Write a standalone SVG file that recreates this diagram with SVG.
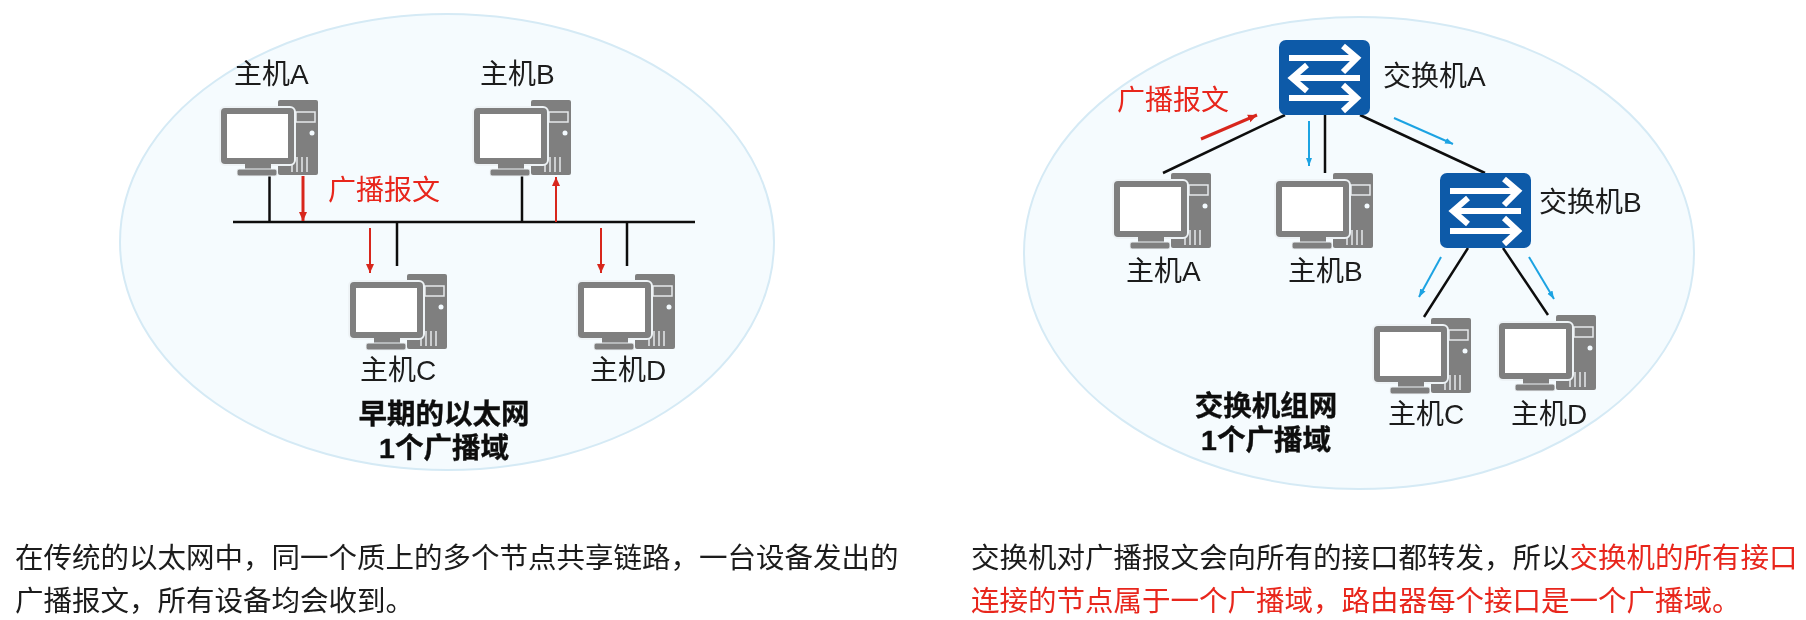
<svg xmlns="http://www.w3.org/2000/svg" width="1806" height="620" viewBox="0 0 1806 620">
<style>
text{font-family:"Liberation Sans","Noto Sans CJK SC",sans-serif;font-size:28px;fill:#1a1a1a}
.b{font-weight:700;font-size:28.500px;fill:#111;stroke:#111;stroke-width:.4;text-anchor:middle}
.r{fill:#e8261c}
.p{font-size:28.500px}
.dom{fill:#f5fbfe;stroke:#d5eaf5;stroke-width:2}
.k{stroke:#111;stroke-width:2.500;fill:none}
.rd{stroke:#d8281e;fill:none}
.bl{stroke:#1ea3e2;stroke-width:2;fill:none}
</style>
<defs>
<filter id="soft" x="0" y="0" width="100%" height="100%" filterUnits="userSpaceOnUse" primitiveUnits="userSpaceOnUse"><feGaussianBlur stdDeviation="0.45"/></filter>
<marker id="mr" markerUnits="userSpaceOnUse" markerWidth="10" markerHeight="10" refX="9" refY="5" orient="auto"><path d="M0 1L9 5L0 9z" fill="#d8281e"/></marker>
<marker id="mb" markerUnits="userSpaceOnUse" markerWidth="10" markerHeight="10" refX="8" refY="5" orient="auto"><path d="M0 2L8 5L0 8z" fill="#1ea3e2"/></marker>
<symbol id="pc" width="100" height="78" viewBox="0 0 100 78" overflow="visible">
<rect x="58" y="0" width="40" height="75" rx="2" fill="#7f7f7f"/>
<rect x="76" y="12" width="19" height="10" fill="#7f7f7f" stroke="#e6e9eb" stroke-width="1.500"/>
<circle cx="92" cy="33" r="2.500" fill="#f3fafe"/>
<path d="M72 60V72M77 57V72M82 57V72M87 57V72" stroke="#e6e9eb" stroke-width="1.500"/>
<rect x="0" y="7" width="75" height="58" rx="5" fill="#7f7f7f" stroke="#eef3f6" stroke-width="2"/>
<rect x="7" y="14" width="61" height="44" fill="#fff"/>
<rect x="25" y="64" width="26" height="6" fill="#7f7f7f"/>
<rect x="17" y="69" width="40" height="7" rx="2" fill="#7f7f7f" stroke="#eef3f6"/>
</symbol>
<symbol id="sw" width="91" height="75" viewBox="0 0 91 75" overflow="visible">
<rect width="91" height="75" rx="7" fill="#0f5aa8"/>
<path d="M10 18H78M64 6L78 18L64 32M81 38H14M28 25L13 38L28 51M10 58H78M64 45L78 58L64 71" fill="none" stroke="#fff" stroke-width="6"/>
</symbol>
</defs>
<g filter="url(#soft)">
<rect width="1806" height="620" fill="#fff"/>
<g id="domain-left"><ellipse class="dom" cx="447" cy="242" rx="327" ry="228"/></g>
<g id="domain-right"><ellipse class="dom" cx="1359" cy="253" rx="335" ry="236"/></g>
<g id="connectors">
<path class="k" d="M233 222H695"/>
<path class="k" d="M269.500 176V222M522 176V222M397 222V266M627 222V266"/>
<path class="rd" stroke-width="3" marker-end="url(#mr)" d="M303 176V221"/>
<path class="rd" stroke-width="2" marker-end="url(#mr)" d="M556 222V177"/>
<path class="rd" stroke-width="2" marker-end="url(#mr)" d="M370 228V273"/>
<path class="rd" stroke-width="2" marker-end="url(#mr)" d="M601 228V273"/>
<path class="k" d="M1285 115L1163 173M1325 115V173M1360 115L1485 173M1468 248L1424 317M1503 248L1548 315"/>
<path class="rd" stroke-width="3" marker-end="url(#mr)" d="M1201 139L1257 115"/>
<path class="bl" marker-end="url(#mb)" d="M1309 121V166"/>
<path class="bl" marker-end="url(#mb)" d="M1394 118L1453 144"/>
<path class="bl" marker-end="url(#mb)" d="M1441 257L1419 297"/>
<path class="bl" marker-end="url(#mb)" d="M1529 257L1554 299"/>
</g>
<g id="l-host-a"><use href="#pc" x="220" y="100"/><text x="234" y="84">主机A</text></g>
<g id="l-host-b"><use href="#pc" x="473" y="100"/><text x="480" y="84">主机B</text></g>
<g id="l-host-c"><use href="#pc" x="349" y="274"/><text x="360" y="380">主机C</text></g>
<g id="l-host-d"><use href="#pc" x="577" y="274"/><text x="590" y="380">主机D</text></g>
<g id="l-label"><text class="r" x="328" y="200">广播报文</text></g>
<g id="l-title"><text class="b" x="444" y="424">早期的以太网</text><text class="b" x="444" y="458">1个广播域</text></g>
<g id="r-switch-a"><use href="#sw" x="1279" y="40"/><text x="1383" y="86">交换机A</text></g>
<g id="r-switch-b"><use href="#sw" x="1440" y="173"/><text x="1539" y="212">交换机B</text></g>
<g id="r-host-a"><use href="#pc" x="1113" y="173"/><text x="1126" y="281">主机A</text></g>
<g id="r-host-b"><use href="#pc" x="1275" y="173"/><text x="1288" y="281">主机B</text></g>
<g id="r-host-c"><use href="#pc" x="1373" y="318"/><text x="1388" y="424">主机C</text></g>
<g id="r-host-d"><use href="#pc" x="1498" y="315"/><text x="1511" y="424">主机D</text></g>
<g id="r-label"><text class="r" x="1117" y="110">广播报文</text></g>
<g id="r-title"><text class="b" x="1266" y="416">交换机组网</text><text class="b" x="1266" y="450">1个广播域</text></g>
<g id="caption-left">
<text class="p" x="15" y="568">在传统的以太网中，同一个质上的多个节点共享链路，一台设备发出的</text>
<text class="p" x="15" y="611">广播报文，所有设备均会收到。</text>
</g>
<g id="caption-right">
<text class="p" x="971" y="568">交换机对广播报文会向所有的接口都转发，所以<tspan class="r">交换机的所有接口</tspan></text>
<text class="p r" x="971" y="611">连接的节点属于一个广播域，路由器每个接口是一个广播域。</text>
</g>
</g>
</svg>
